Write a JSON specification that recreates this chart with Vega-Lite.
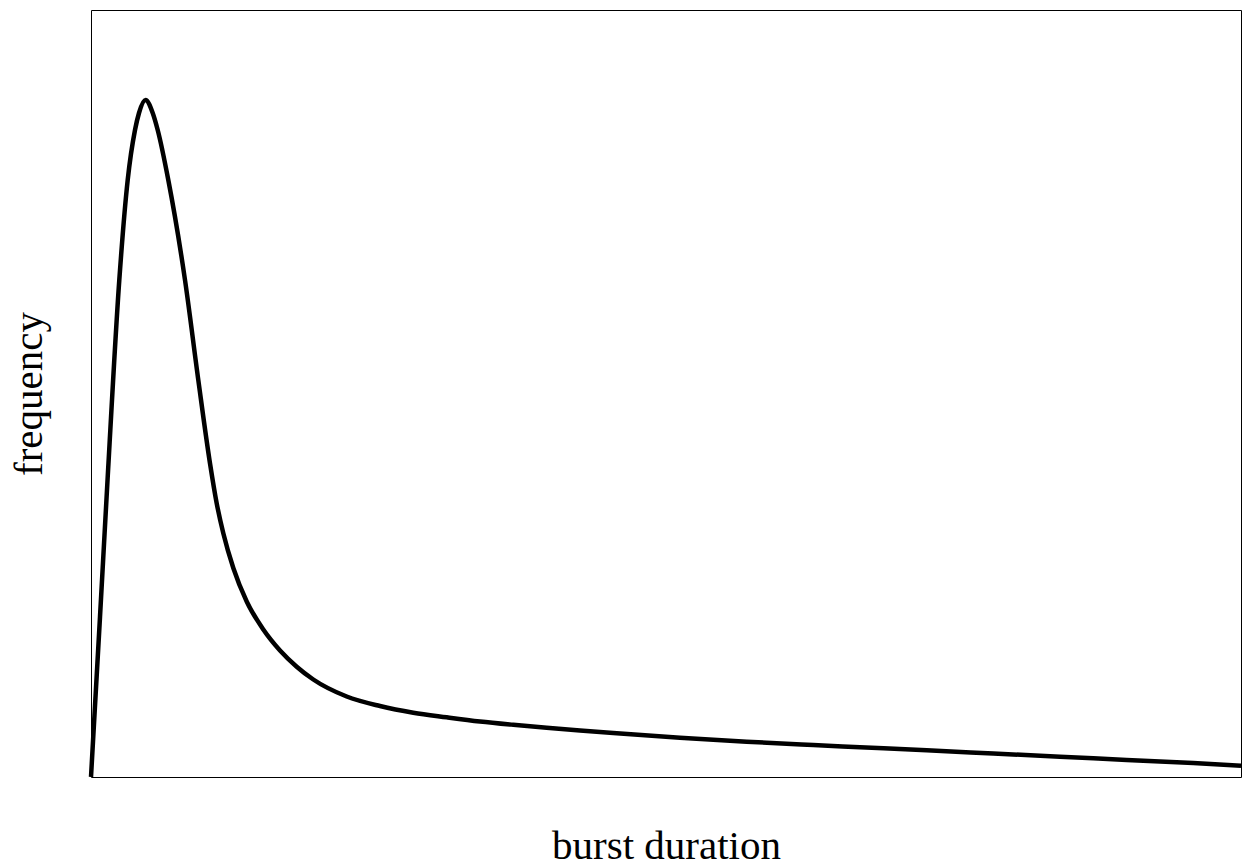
{
  "$schema": "https://vega.github.io/schema/vega-lite/v6.json",
  "width": 1150,
  "height": 767,
  "autosize": {"type": "none"},
  "padding": {"left": 91, "top": 10, "right": 2, "bottom": 90},
  "background": "white",
  "config": {
    "view": {"stroke": "black", "strokeWidth": 1},
    "font": "Liberation Serif"
  },
  "data": {
    "values": [
      {"duration": 0, "frequency": 0},
      {"duration": 9, "frequency": 160},
      {"duration": 16.7, "frequency": 300},
      {"duration": 28.3, "frequency": 497},
      {"duration": 36.7, "frequency": 597},
      {"duration": 44, "frequency": 647},
      {"duration": 48, "frequency": 664},
      {"duration": 54.5, "frequency": 677},
      {"duration": 61.7, "frequency": 664},
      {"duration": 66.7, "frequency": 647},
      {"duration": 77.3, "frequency": 597},
      {"duration": 94, "frequency": 497},
      {"duration": 107.3, "frequency": 397},
      {"duration": 119, "frequency": 313.7},
      {"duration": 125.7, "frequency": 273.7},
      {"duration": 132.3, "frequency": 243.7},
      {"duration": 142.3, "frequency": 209},
      {"duration": 155.7, "frequency": 175.5},
      {"duration": 172.3, "frequency": 147.5},
      {"duration": 189, "frequency": 126.5},
      {"duration": 205.7, "frequency": 110.3},
      {"duration": 222.3, "frequency": 97.5},
      {"duration": 255.7, "frequency": 80.5},
      {"duration": 289, "frequency": 71},
      {"duration": 322.3, "frequency": 64.3},
      {"duration": 355.7, "frequency": 59.7},
      {"duration": 389, "frequency": 55.5},
      {"duration": 422.3, "frequency": 52.2},
      {"duration": 455.7, "frequency": 49.3},
      {"duration": 489, "frequency": 46.6},
      {"duration": 522.3, "frequency": 44},
      {"duration": 589, "frequency": 39.2},
      {"duration": 655.7, "frequency": 35.3},
      {"duration": 722.3, "frequency": 32},
      {"duration": 769, "frequency": 29.8},
      {"duration": 835.7, "frequency": 26.7},
      {"duration": 902.3, "frequency": 23.5},
      {"duration": 969, "frequency": 20.3},
      {"duration": 1035.7, "frequency": 17.1},
      {"duration": 1102.3, "frequency": 13.9},
      {"duration": 1150, "frequency": 11.3}
    ]
  },
  "mark": {"type": "line", "color": "black", "strokeWidth": 4.5, "interpolate": "monotone", "clip": false},
  "encoding": {
    "x": {
      "field": "duration",
      "type": "quantitative",
      "scale": {"domain": [0, 1150], "nice": false, "zero": false},
      "axis": {
        "title": "burst duration",
        "labels": false, "ticks": false, "domain": false, "grid": false,
        "titleFont": "Liberation Serif", "titleFontSize": 41, "titleFontWeight": "normal",
        "titleColor": "black", "titlePadding": 49
      }
    },
    "y": {
      "field": "frequency",
      "type": "quantitative",
      "scale": {"domain": [0, 767], "nice": false, "zero": false},
      "axis": {
        "title": "frequency",
        "labels": false, "ticks": false, "domain": false, "grid": false,
        "titleFont": "Liberation Serif", "titleFontSize": 41, "titleFontWeight": "normal",
        "titleColor": "black", "titlePadding": 41
      }
    }
  }
}
